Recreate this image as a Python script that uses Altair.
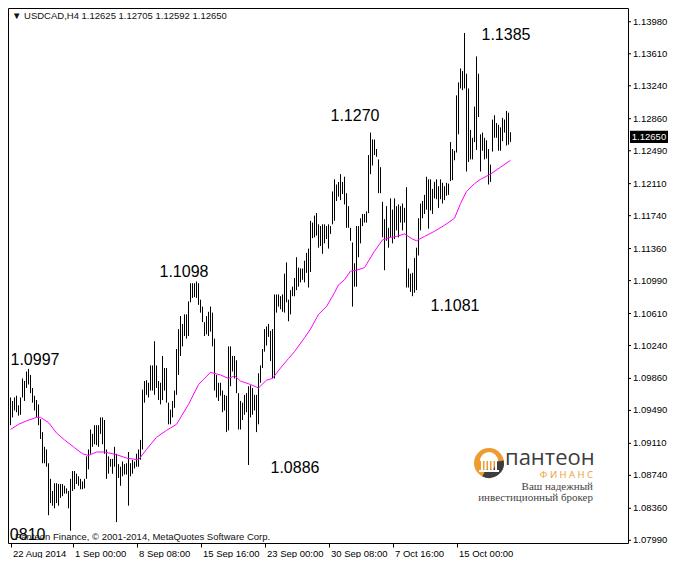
import altair as alt
import pandas as pd

# ---------------- data ----------------
highs = [
    1.0964, 1.0960, 1.0964, 1.0966, 1.0955, 1.0964, 1.0986, 1.0983, 1.0994, 1.0997,
    1.0990, 1.0975, 1.0966, 1.0961, 1.0956, 1.0939, 1.0924, 1.0907, 1.0904, 1.0888,
    1.0870, 1.0856, 1.0865, 1.0865, 1.0864, 1.0864, 1.0864, 1.0862, 1.0859, 1.0856,
    1.0870, 1.0879, 1.0879, 1.0876, 1.0873, 1.0870, 1.0867, 1.0870, 1.0896, 1.0904,
    1.0927, 1.0922, 1.0932, 1.0932, 1.0932, 1.0941, 1.0941, 1.0938, 1.0904, 1.0896,
    1.0893, 1.0893, 1.0907, 1.0899,
    1.0887, 1.0884, 1.0890, 1.0887, 1.0888, 1.0901, 1.0888, 1.0892, 1.0890, 1.0899,
    1.0904, 1.0915, 1.0973, 1.0983, 1.0984, 1.0981, 1.1001, 1.1001, 1.1029, 1.1001,
    1.0983, 1.0981, 1.1012, 1.0998, 1.0998, 1.0958, 1.0950, 1.0960, 1.0972, 1.1020,
    1.1043, 1.1058, 1.1049, 1.1060, 1.1060, 1.1075, 1.1096, 1.1096, 1.1096, 1.1098,
    1.1096, 1.1077, 1.1069, 1.1051, 1.1058, 1.1063, 1.1069, 1.1062, 1.1032, 1.0990,
    1.0981, 1.0981, 1.0972, 1.0967, 1.0966, 1.1023, 1.1023, 1.1012, 1.1012, 1.1007,
    1.0969, 1.0960, 1.0958, 1.0967, 1.0969, 1.0977, 1.0978, 1.0975, 1.0967, 1.0967,
    1.0992, 1.1001, 1.1020, 1.1043, 1.1046, 1.1049, 1.1041, 1.1043, 1.1083, 1.1083,
    1.1083, 1.1081, 1.1083, 1.1107, 1.1120, 1.1077, 1.1088, 1.1092, 1.1102, 1.1126,
    1.1114, 1.1113, 1.1113, 1.1122, 1.1131, 1.1136, 1.1168, 1.1166, 1.1174, 1.1177,
    1.1164, 1.1162, 1.1164, 1.1164, 1.1162, 1.1164, 1.1162, 1.1202, 1.1216, 1.1210,
    1.1213, 1.1222, 1.1213, 1.1219, 1.1200, 1.1185, 1.1160, 1.1143, 1.1119, 1.1162,
    1.1162, 1.1171, 1.1176, 1.1176, 1.1179, 1.1244, 1.1270, 1.1262, 1.1262, 1.1251,
    1.1239, 1.1230, 1.1190, 1.1170, 1.1185, 1.1160, 1.1194, 1.1181, 1.1194, 1.1185,
    1.1187, 1.1185, 1.1188, 1.1183, 1.1207, 1.1113, 1.1107, 1.1108, 1.1125, 1.1137,
    1.1171, 1.1188, 1.1191, 1.1198, 1.1219, 1.1216, 1.1216, 1.1205, 1.1213, 1.1216,
    1.1208, 1.1216, 1.1212, 1.1208, 1.1212, 1.1211, 1.1259, 1.1251, 1.1249, 1.1313,
    1.1328, 1.1344, 1.1341, 1.1385, 1.1338, 1.1321, 1.1273, 1.1264, 1.1300, 1.1358,
    1.1338, 1.1268, 1.1270, 1.1264, 1.1261, 1.1251, 1.1233, 1.1285, 1.1290, 1.1281,
    1.1279, 1.1276, 1.1287, 1.1285, 1.1295, 1.1293, 1.12705,
]
lows = [
    1.0932, 1.0941, 1.0949, 1.0947, 1.0943, 1.0944, 1.0964, 1.0960, 1.0975, 1.0979,
    1.0969, 1.0958, 1.0949, 1.0941, 1.0932, 1.0916, 1.0888, 1.0888, 1.0884, 1.0828,
    1.0842, 1.0839, 1.0836, 1.0842, 1.0839, 1.0848, 1.0850, 1.0853, 1.0853, 1.0836,
    1.0810, 1.0856, 1.0858, 1.0864, 1.0862, 1.0858, 1.0858, 1.0859, 1.0870, 1.0881,
    1.0899, 1.0907, 1.0910, 1.0909, 1.0907, 1.0922, 1.0910, 1.0899, 1.0870, 1.0876,
    1.0884, 1.0876, 1.0884, 1.0820,
    1.0871, 1.0862, 1.0873, 1.0875, 1.0875, 1.0839, 1.0873, 1.0876, 1.0882, 1.0884,
    1.0884, 1.0892, 1.0904, 1.0958, 1.0967, 1.0964, 1.0972, 1.0972, 1.0967, 1.0975,
    1.0961, 1.0956, 1.0961, 1.0972, 1.0958, 1.0933, 1.0933, 1.0941, 1.0952, 1.0967,
    1.0990, 1.1012, 1.1023, 1.1035, 1.1032, 1.1035, 1.1074, 1.1079, 1.1080, 1.1079,
    1.1071, 1.1062, 1.1051, 1.1035, 1.1037, 1.1035, 1.1040, 1.1023, 1.0972, 1.0964,
    1.0960, 1.0966, 1.0947, 1.0949, 1.0924, 1.0926, 1.0977, 1.0994, 1.0986, 1.0969,
    1.0927, 1.0927, 1.0938, 1.0944, 1.0947, 1.0886, 1.0941, 1.0944, 1.0949, 1.0924,
    1.0933, 1.0981, 1.0998, 1.1017, 1.1024, 1.1034, 1.1006, 1.0986, 1.0986, 1.1062,
    1.1069, 1.1066, 1.1063, 1.1062, 1.1074, 1.1052, 1.1060, 1.1081, 1.1081, 1.1088,
    1.1092, 1.1097, 1.1100, 1.1097, 1.1108, 1.1091, 1.1109, 1.1148, 1.1149, 1.1151,
    1.1137, 1.1139, 1.1130, 1.1142, 1.1147, 1.1136, 1.1153, 1.1164, 1.1168, 1.1191,
    1.1196, 1.1192, 1.1199, 1.1187, 1.1160, 1.1160, 1.1145, 1.1069, 1.1092, 1.1092,
    1.1126, 1.1142, 1.1162, 1.1166, 1.1166, 1.1177, 1.1222, 1.1232, 1.1244, 1.1242,
    1.1200, 1.1200, 1.1149, 1.1111, 1.1145, 1.1137, 1.1149, 1.1142, 1.1147, 1.1157,
    1.1149, 1.1166, 1.1157, 1.1166, 1.1091, 1.1091, 1.1086, 1.1081, 1.1085, 1.1088,
    1.1128, 1.1157, 1.1171, 1.1176, 1.1181, 1.1159, 1.1180, 1.1176, 1.1194, 1.1193,
    1.1183, 1.1193, 1.1188, 1.1192, 1.1197, 1.1198, 1.1214, 1.1215, 1.1238, 1.1247,
    1.1268, 1.1321, 1.1319, 1.1321, 1.1225, 1.1236, 1.1239, 1.1239, 1.1259, 1.1250,
    1.1288, 1.1225, 1.1249, 1.1239, 1.1240, 1.1210, 1.1213, 1.1248, 1.1264, 1.1264,
    1.1249, 1.1249, 1.1260, 1.1270, 1.1255, 1.1256, 1.12592,
]

ma_idx = [0, 4, 8, 13, 15, 19, 23, 27, 32, 36, 39, 43, 47, 53, 58, 64, 68, 73, 78, 83,
          89, 94, 100, 105, 109, 112, 115, 120, 124, 128, 131, 135, 139, 142, 147, 150,
          154, 158, 162, 164, 167, 170, 173, 177, 182, 186, 190, 193, 197, 201, 203,
          207, 212, 217, 222, 225, 228, 232, 235, 240, 245, 250]
ma_val = [1.0927, 1.0933, 1.0937, 1.0941, 1.0941, 1.0935, 1.0923, 1.0915, 1.0906, 1.0899,
          1.0897, 1.0901, 1.0901, 1.0898, 1.0894, 1.0892, 1.0904, 1.0918, 1.0926, 1.0933,
          1.0956, 1.0979, 1.0993, 1.0990, 1.0986, 1.0989, 1.0983, 1.0979, 1.0975, 1.0984,
          1.0986, 1.0998, 1.1009, 1.1017, 1.1033, 1.1043, 1.1060, 1.1069, 1.1085, 1.1094,
          1.1100, 1.1110, 1.1111, 1.1114, 1.1133, 1.1146, 1.1149, 1.1150, 1.1153, 1.1147,
          1.1145, 1.1150, 1.1156, 1.1163, 1.1171, 1.1188, 1.1202, 1.1211, 1.1216, 1.1222,
          1.1230, 1.1238]

date_idx = [0, 31, 63, 95, 127, 159, 191, 223]
date_lbl = ["22 Aug 2014", "1 Sep 00:00", "8 Sep 08:00", "15 Sep 16:00",
            "23 Sep 00:00", "30 Sep 08:00", "7 Oct 16:00", "15 Oct 00:00"]

price_ticks = [1.13980, 1.13610, 1.13240, 1.12860, 1.12490, 1.12110, 1.11740, 1.11360,
               1.10990, 1.10610, 1.10240, 1.09860, 1.09490, 1.09110, 1.08740, 1.08360,
               1.07990]

ann_text = ["1.0997", "1.1098", "1.0886", "1.1270", "1.1385", "1.1081", "1.0810"]
ann_idx = [0, 74.5, 130, 160, 235.5, 210, -7]
ann_price = [1.1001, 1.1103, 1.0877, 1.1283, 1.1377, 1.1064, 1.0799]

current_price = [1.12650]
current_label = ["1.12650"]
header = "\u25BC USDCAD,H4  1.12625 1.12705 1.12592 1.12650"
copyright_text = "Panteon Finance, \u00A9 2001-2014, MetaQuotes Software Corp."

# ---------------- layout ----------------
W, H = 620, 535
FONT = "Liberation Sans"
FS = 9.5
ORANGE = "#EE9B2F"
GREY = "#3d3d3d"

assert len(highs) == len(lows)
bars = pd.DataFrame({"i": list(range(len(highs))), "hi": highs, "lo": lows})
ma = pd.DataFrame({"i": ma_idx, "v": ma_val})
ann = pd.DataFrame({"i": ann_idx, "p": ann_price, "t": ann_text})
cur = pd.DataFrame({"p": current_price, "t": current_label})
ticks = pd.DataFrame({"p": price_ticks, "t": [f"{v:.5f}" for v in price_ticks]})
one = pd.DataFrame({"a": [0]})

xs = alt.Scale(domain=[-1.25, 308.75], nice=False, zero=False)
ys = alt.Scale(domain=[1.07959, 1.14139], nice=False, zero=False)

label_expr = " : ".join(f"datum.value == {i} ? '{s}'" for i, s in zip(date_idx, date_lbl)) + " : ''"

xaxis = alt.Axis(values=date_idx, labelExpr=label_expr, labelAlign="left", labelBaseline="top",
                 tickSize=4, labelPadding=1, labelFont=FONT, labelFontSize=FS, labelColor="black",
                 tickColor="black", domain=False, grid=False, title=None, labelOverlap=False,
                 labelFlush=False, labelOffset=2)

bar_layer = alt.Chart(bars).mark_rule(color="black", strokeWidth=1).encode(
    x=alt.X("i:Q", scale=xs, axis=xaxis, title=None),
    y=alt.Y("hi:Q", scale=ys, axis=None),
    y2="lo:Q",
)

ma_layer = alt.Chart(ma).mark_line(color="#FF00FF", strokeWidth=1).encode(
    x=alt.X("i:Q", scale=xs, title=None),
    y=alt.Y("v:Q", scale=ys, axis=None),
)

ann_layer = alt.Chart(ann).mark_text(align="left", baseline="alphabetic", font=FONT,
                                     fontSize=16, color="black", clip=True).encode(
    x=alt.X("i:Q", scale=xs, title=None),
    y=alt.Y("p:Q", scale=ys, axis=None),
    text="t:N",
)

# right-hand price scale (drawn as marks so that every label is kept)
tick_marks = alt.Chart(ticks).mark_rule(color="black", strokeWidth=1).encode(
    x=alt.value(W), x2=alt.value(W + 3),
    y=alt.Y("p:Q", scale=ys, axis=None),
)
tick_labels = alt.Chart(ticks).mark_text(align="left", baseline="middle", font=FONT,
                                         fontSize=FS, color="black").encode(
    x=alt.value(W + 5),
    y=alt.Y("p:Q", scale=ys, axis=None),
    text="t:N",
)

box_path = "M -1 -0.32 L 1 -0.32 L 1 0.32 L -1 0.32 Z"
cur_box = alt.Chart(cur).mark_point(shape=box_path, size=38 * 38, filled=True, color="black",
                                    opacity=1, strokeWidth=0).encode(
    x=alt.value(W + 21),
    y=alt.Y("p:Q", scale=ys, axis=None),
)
cur_text = alt.Chart(cur).mark_text(color="white", font=FONT, fontSize=FS, align="center",
                                    baseline="middle").encode(
    x=alt.value(W + 21),
    y=alt.Y("p:Q", scale=ys, axis=None),
    text="t:N",
)


def label(text, x, y, **kw):
    return alt.Chart(one).mark_text(text=text, **kw).encode(x=alt.value(x), y=alt.value(y))


title_layer = label(header, 4, 11, align="left", baseline="alphabetic", font=FONT,
                    fontSize=FS, color="#111111")
copy_layer = label(copyright_text, 7, 532, align="left", baseline="alphabetic", font=FONT,
                   fontSize=FS, color="#111111")

# logo (decoration)
CX, CY = 481, 455
logo_circle = alt.Chart(one).mark_arc(radius=15, theta=0, theta2=6.2832, color=ORANGE).encode(
    x=alt.value(CX), y=alt.value(CY))
logo_dark = alt.Chart(one).mark_arc(radius=15, radius2=7, theta=1.4, theta2=3.6, color=GREY).encode(
    x=alt.value(CX), y=alt.value(CY))
logo_roof = alt.Chart(one).mark_arc(radius=9, theta=4.7124, theta2=7.854, color="white").encode(
    x=alt.value(CX), y=alt.value(CY - 2))
logo_cols = alt.Chart(pd.DataFrame({"c": [474, 477.5, 481, 484.5, 488]})).mark_rule(
    color="white", strokeWidth=2).encode(
    x=alt.X("c:Q", scale=None), y=alt.value(CY - 2), y2=alt.value(CY + 7))
logo_base = alt.Chart(one).mark_rule(color="white", strokeWidth=2).encode(
    x=alt.value(CX - 10), x2=alt.value(CX + 10), y=alt.value(CY + 8))
logo_name = label("\u043f\u0430\u043d\u0442\u0435\u043e\u043d", 497, 457, align="left",
                  baseline="alphabetic", font="Open Sans", fontSize=22, color=GREY)
logo_fin = label("\u0424   \u0418   \u041d   \u0410   \u041d   \u0421", 585, 470, align="right",
                 baseline="alphabetic", font="Open Sans", fontSize=9.5, color=ORANGE)
logo_l1 = label("\u0412\u0430\u0448 \u043d\u0430\u0434\u0435\u0436\u043d\u044b\u0439", 585, 482,
                align="right", baseline="alphabetic", font="Liberation Serif", fontSize=11,
                color="#444444")
logo_l2 = label("\u0438\u043d\u0432\u0435\u0441\u0442\u0438\u0446\u0438\u043e\u043d\u043d\u044b\u0439 "
                "\u0431\u0440\u043e\u043a\u0435\u0440", 585, 493, align="right",
                baseline="alphabetic", font="Liberation Serif", fontSize=11, color="#444444")

chart = alt.layer(
    bar_layer, ma_layer, ann_layer, title_layer, copy_layer,
    logo_circle, logo_dark, logo_roof, logo_cols, logo_base,
    logo_name, logo_fin, logo_l1, logo_l2,
    tick_marks, tick_labels, cur_box, cur_text,
).properties(
    width=W, height=H, padding=0, background="white"
).configure_view(
    stroke="black", strokeWidth=1
)

chart.save("out.html", embed_options={"renderer": "svg", "actions": False})
